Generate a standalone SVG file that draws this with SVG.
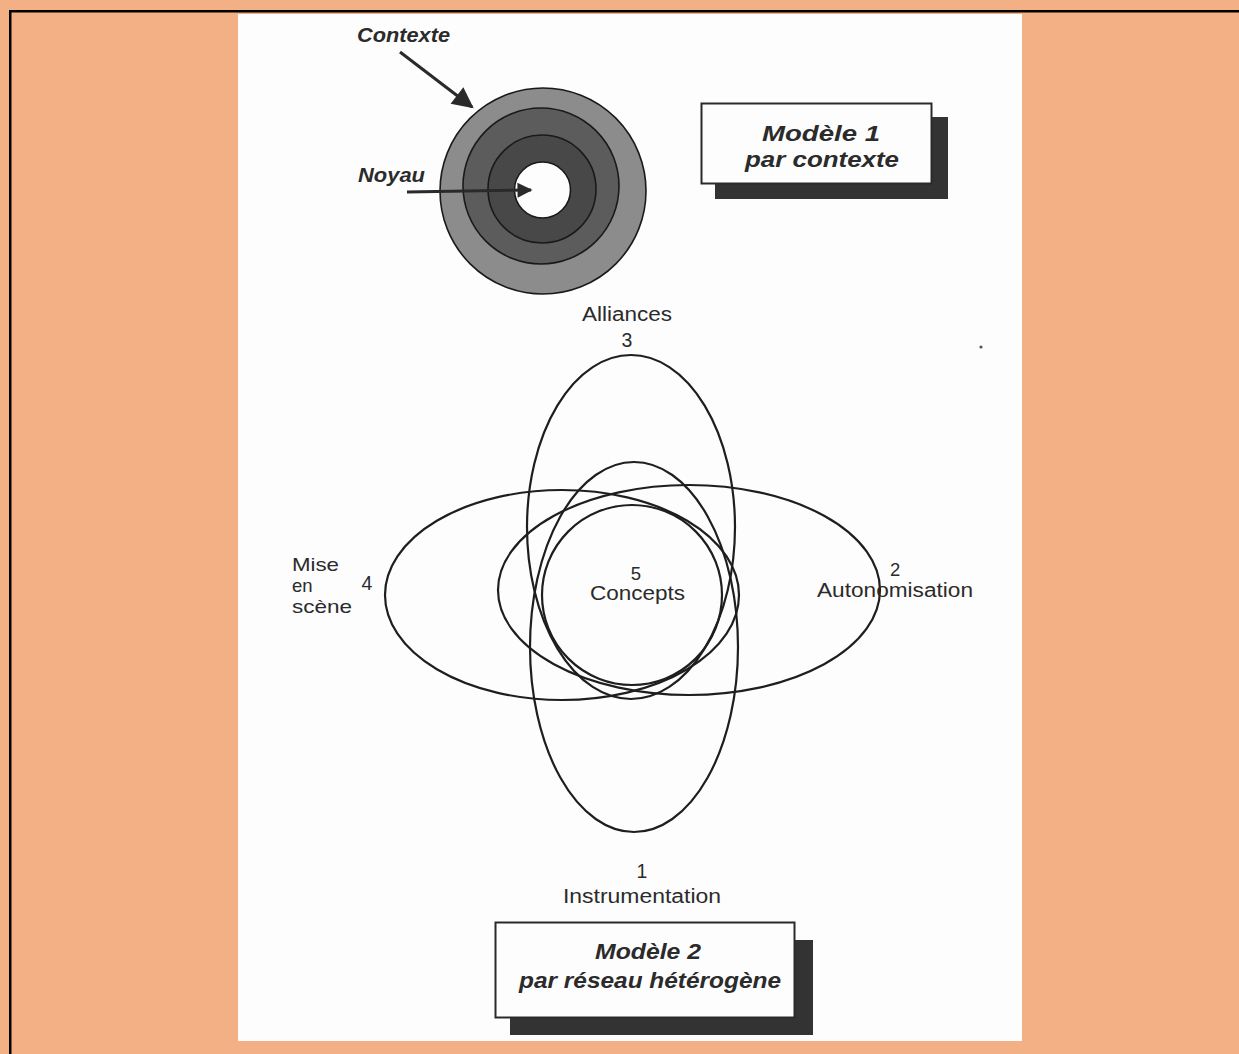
<svg xmlns="http://www.w3.org/2000/svg" width="1239" height="1054" viewBox="0 0 1239 1054">
<style>
.lbl{font-family:"Liberation Sans",Arial,sans-serif;font-size:19.5px;fill:#2b2b2b}
.sm{font-size:18.5px}
.bi{font-family:"Liberation Sans",Arial,sans-serif;font-size:20px;font-weight:bold;font-style:italic;fill:#2b2b2b}
.ttl{font-family:"Liberation Sans",Arial,sans-serif;font-size:22px;font-weight:bold;font-style:italic;fill:#2b2b2b}
.ell{fill:none;stroke:#1e1e1e;stroke-width:2.2}
.ring{stroke:#1a1a1a;stroke-width:1.6}
.conn{stroke:#2a2a2a;stroke-width:3;fill:none}
</style>
<defs>
<marker id="ah" viewBox="0 0 10 10" refX="9" refY="5" markerWidth="8.5" markerHeight="7" markerUnits="strokeWidth" orient="auto">
<path d="M0,0 L10,5 L0,10 z" fill="#2a2a2a"/>
</marker>
<marker id="ah2" viewBox="0 0 10 10" refX="9" refY="5" markerWidth="6" markerHeight="5" markerUnits="strokeWidth" orient="auto">
<path d="M0,0 L10,5 L0,10 z" fill="#2a2a2a"/>
</marker>
</defs>
<rect x="0" y="0" width="1239" height="1054" fill="#F3B084"/>
<rect x="9" y="10" width="1230" height="2.5" fill="#000"/>
<rect x="9" y="10" width="2.5" height="1044" fill="#000"/>
<rect x="238" y="14" width="784" height="1027" fill="#FDFDFD"/>
<circle cx="981" cy="347" r="1.6" fill="#555"/>

<g id="target">
<circle class="ring" cx="543" cy="191" r="103" fill="#8c8c8c"/>
<circle class="ring" cx="541" cy="186" r="78" fill="#5c5c5c"/>
<circle class="ring" cx="542" cy="189" r="54" fill="#484848"/>
<circle class="ring" cx="542.5" cy="190" r="28" fill="#FDFDFD"/>
</g>
<g id="contexte"><text class="bi" x="357" y="42" textLength="93" lengthAdjust="spacingAndGlyphs">Contexte</text></g>
<g id="noyau"><text class="bi" x="358" y="182" textLength="67" lengthAdjust="spacingAndGlyphs">Noyau</text></g>

<g id="modele1">
<rect x="715" y="117" width="233" height="82" fill="#333"/>
<rect x="701.5" y="103.5" width="230" height="80" fill="#FDFDFD" stroke="#2a2a2a" stroke-width="2"/>
<text class="ttl" x="821" y="141" text-anchor="middle" textLength="118" lengthAdjust="spacingAndGlyphs">Modèle 1</text>
<text class="ttl" x="822" y="167" text-anchor="middle" textLength="154" lengthAdjust="spacingAndGlyphs">par contexte</text>
</g>

<g id="modele2">
<rect x="510" y="940" width="303" height="95" fill="#333"/>
<rect x="495.5" y="922.5" width="299" height="95" fill="#FDFDFD" stroke="#2a2a2a" stroke-width="2"/>
<text class="ttl" x="648" y="959" text-anchor="middle" textLength="106" lengthAdjust="spacingAndGlyphs">Modèle 2</text>
<text class="ttl" x="650" y="988" text-anchor="middle" textLength="262" lengthAdjust="spacingAndGlyphs">par réseau hétérogène</text>
</g>

<g id="alliances">
<ellipse class="ell" cx="631" cy="527" rx="104" ry="172"/>
<text class="lbl" x="627" y="320.5" text-anchor="middle" textLength="90" lengthAdjust="spacingAndGlyphs">Alliances</text>
<text class="lbl" x="627" y="346.5" text-anchor="middle">3</text>
</g>
<g id="instrumentation">
<ellipse class="ell" cx="634" cy="647" rx="104" ry="185"/>
<text class="lbl" x="642" y="878" text-anchor="middle">1</text>
<text class="lbl" x="642" y="903" text-anchor="middle" textLength="158" lengthAdjust="spacingAndGlyphs">Instrumentation</text>
</g>
<g id="miseenscene">
<ellipse class="ell" cx="562" cy="595" rx="177" ry="105"/>
<text class="lbl sm" x="292" y="570.5" textLength="47" lengthAdjust="spacingAndGlyphs">Mise</text>
<text class="lbl sm" x="292" y="591.5">en</text>
<text class="lbl sm" x="292" y="613" textLength="60" lengthAdjust="spacingAndGlyphs">scène</text>
<text class="lbl" x="361.5" y="590">4</text>
</g>
<g id="autonomisation">
<ellipse class="ell" cx="689" cy="590" rx="191" ry="105"/>
<text class="lbl sm" x="890" y="575.5">2</text>
<text class="lbl" x="817" y="596.5" textLength="156" lengthAdjust="spacingAndGlyphs">Autonomisation</text>
</g>
<g id="concepts">
<circle class="ell" cx="632" cy="595" r="90"/>
<text class="lbl sm" x="636" y="579.5" text-anchor="middle">5</text>
<text class="lbl" x="637.5" y="599.5" text-anchor="middle" textLength="95" lengthAdjust="spacingAndGlyphs">Concepts</text>
</g>

<g id="connectors">
<line class="conn" x1="400" y1="52" x2="472" y2="107" marker-end="url(#ah)"/>
<line class="conn" x1="407" y1="192" x2="531" y2="190" marker-end="url(#ah2)"/>
</g>
</svg>
